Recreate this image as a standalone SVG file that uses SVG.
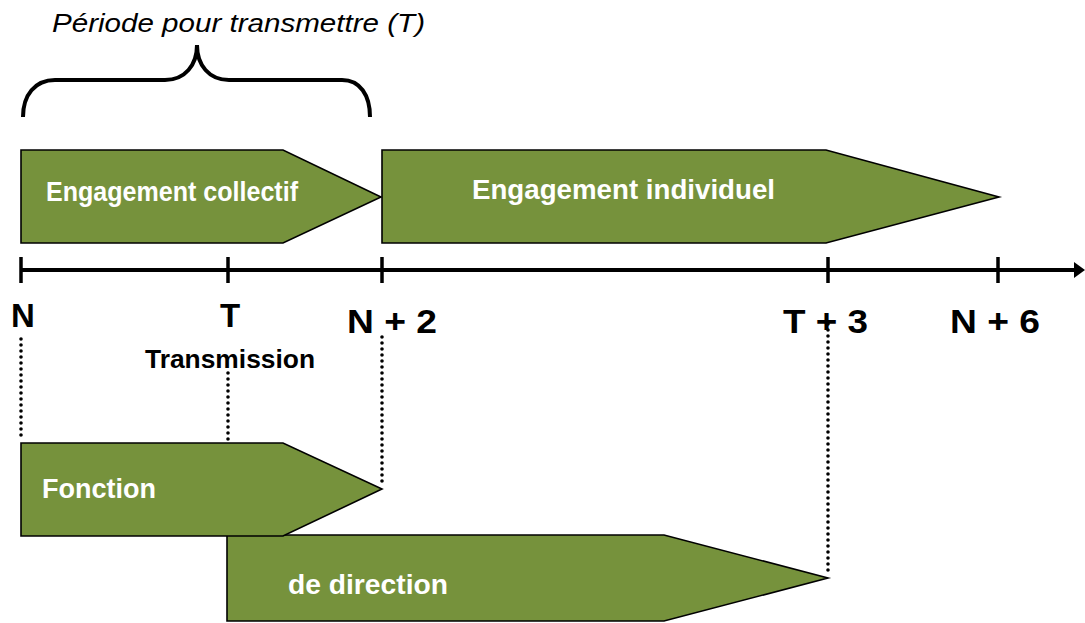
<svg xmlns="http://www.w3.org/2000/svg" width="1085" height="623" viewBox="0 0 1085 623">
<style>
.box{fill:#76923C;stroke:#000;stroke-width:1.6;stroke-linejoin:miter}
.in{fill:#fff;font-family:"Liberation Sans",Arial,sans-serif;font-weight:bold;font-size:27px}
.lbl{fill:#000;font-family:"Liberation Sans",Arial,sans-serif;font-weight:bold;font-size:33px}
.dot{stroke:#000;stroke-width:3.6;stroke-dasharray:0 6;stroke-linecap:round;fill:none}
.tick{stroke:#000;stroke-width:3.5}
</style>
<rect width="1085" height="623" fill="#fff"/>
<g id="title">
<text x="52" y="32" font-family="'Liberation Sans',Arial,sans-serif" font-style="italic" font-size="25" textLength="373" lengthAdjust="spacingAndGlyphs" fill="#000">Période pour transmettre (T)</text>
<path d="M23,117 C23,95 35,80 55,80 L165,80 C185,80 197,65 197,45 C197,65 209,80 229,80 L342,80 C360,80 370,95 370,117" fill="none" stroke="#000" stroke-width="4"/>
</g>
<g id="connectors">
<line x1="21" y1="270" x2="1078" y2="270" stroke="#000" stroke-width="4"/>
<polygon points="1074,262 1085,270 1074,278" fill="#000"/>
<line class="tick" x1="21" y1="257" x2="21" y2="283"/>
<line class="tick" x1="228" y1="257" x2="228" y2="283"/>
<line class="tick" x1="382" y1="257" x2="382" y2="283"/>
<line class="tick" x1="828" y1="257" x2="828" y2="283"/>
<line class="tick" x1="998" y1="257" x2="998" y2="283"/>
<line class="dot" x1="21" y1="339" x2="21" y2="437"/>
<line class="dot" x1="228" y1="373" x2="228" y2="449"/>
<line class="dot" x1="382" y1="337" x2="382" y2="487"/>
<line class="dot" x1="828" y1="324" x2="828" y2="576"/>
</g>
<g id="engagement-collectif">
<polygon class="box" points="21,150 283,150 381,197 283,243 21,243"/>
<text class="in" x="46" y="201" textLength="252" lengthAdjust="spacingAndGlyphs">Engagement collectif</text>
</g>
<g id="engagement-individuel">
<polygon class="box" points="382,150 826,150 999,197 826,243 382,243"/>
<text class="in" x="472" y="199" textLength="303" lengthAdjust="spacingAndGlyphs">Engagement individuel</text>
</g>
<g id="de-direction">
<polygon class="box" points="227,535 664,535 828,578 664,621 227,621"/>
<text class="in" x="288" y="594" textLength="160" lengthAdjust="spacingAndGlyphs">de direction</text>
</g>
<g id="fonction">
<polygon class="box" points="21,443 283,443 382,489 283,536 21,536"/>
<text class="in" x="42" y="498" textLength="114" lengthAdjust="spacingAndGlyphs">Fonction</text>
</g>
<g id="labels">
<text class="lbl" x="23" y="327" text-anchor="middle">N</text>
<text class="lbl" x="230" y="327" text-anchor="middle">T</text>
<text class="lbl" x="347" y="333" textLength="90" lengthAdjust="spacingAndGlyphs">N + 2</text>
<text class="lbl" x="783" y="333" textLength="85" lengthAdjust="spacingAndGlyphs">T + 3</text>
<text class="lbl" x="950" y="333" textLength="90" lengthAdjust="spacingAndGlyphs">N + 6</text>
<text x="145" y="368" font-family="'Liberation Sans',Arial,sans-serif" font-weight="bold" font-size="25" textLength="170" lengthAdjust="spacingAndGlyphs" fill="#000">Transmission</text>
</g>
</svg>
